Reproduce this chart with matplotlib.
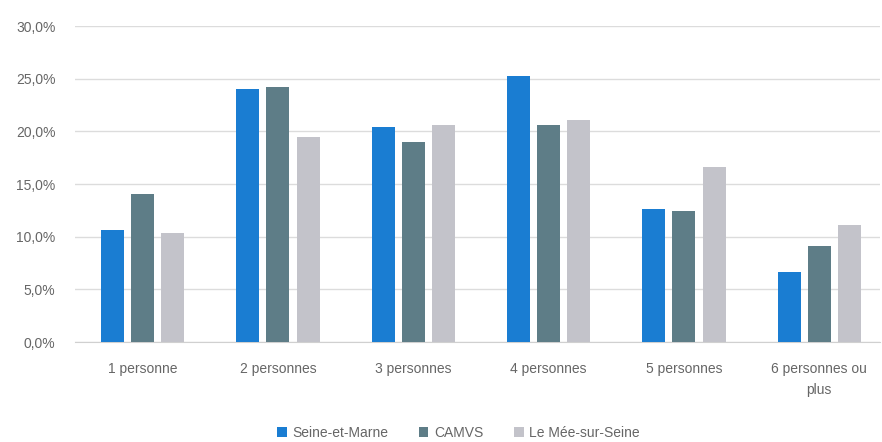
import matplotlib
matplotlib.use("Agg")
import matplotlib.pyplot as plt
from matplotlib.ticker import FuncFormatter
import numpy as np

categories = ["1 personne", "2 personnes", "3 personnes", "4 personnes",
              "5 personnes", "6 personnes ou\nplus"]
series_names = ["Seine-et-Marne", "CAMVS", "Le Mée-sur-Seine"]
seine_et_marne = [10.6, 24.0, 20.4, 25.3, 12.6, 6.7]
camvs = [14.1, 24.2, 19.0, 20.6, 12.4, 9.1]
le_mee = [10.4, 19.5, 20.6, 21.1, 16.6, 11.1]
colors = ["#1a7dd2", "#5e7d87", "#c3c3ca"]

plt.rcParams['font.family'] = ['Liberation Sans', 'DejaVu Sans']

fig = plt.figure(figsize=(8.82, 4.42), dpi=100)
ax = fig.add_axes([0.085, 0.226, 0.913, 0.715])

x = np.arange(len(categories))
width = 0.17
pitch = 0.222
for i, (vals, name, col) in enumerate(zip([seine_et_marne, camvs, le_mee], series_names, colors)):
    ax.bar(x + (i - 1) * pitch, vals, width, color=col, label=name, zorder=3)

ax.set_ylim(0, 30)
ax.set_xlim(-0.5, 5.45)
ax.set_yticks(np.arange(0, 31, 5))
ax.yaxis.set_major_formatter(FuncFormatter(lambda v, p: f"{v:.1f}%".replace(".", ",")))
ax.grid(axis='y', color='#dcdcdc', linewidth=1, zorder=0)
for s in ['top', 'right', 'left']:
    ax.spines[s].set_visible(False)
ax.spines['bottom'].set_color('#d0d0d0')
ax.tick_params(axis='both', length=0, colors='#666666', labelsize=10)
ax.tick_params(axis='y', pad=14)
ax.tick_params(axis='x', pad=14)
ax.set_xticks(x)
ax.set_xticklabels(categories, linespacing=1.7)

ax.legend(loc='center', bbox_to_anchor=(0.476, -0.288), ncol=3, frameon=False,
          fontsize=10, handlelength=0.7, handleheight=0.7, handletextpad=0.4,
          columnspacing=2.2, labelcolor='#666666')

fig.savefig("out.png", dpi=100)
